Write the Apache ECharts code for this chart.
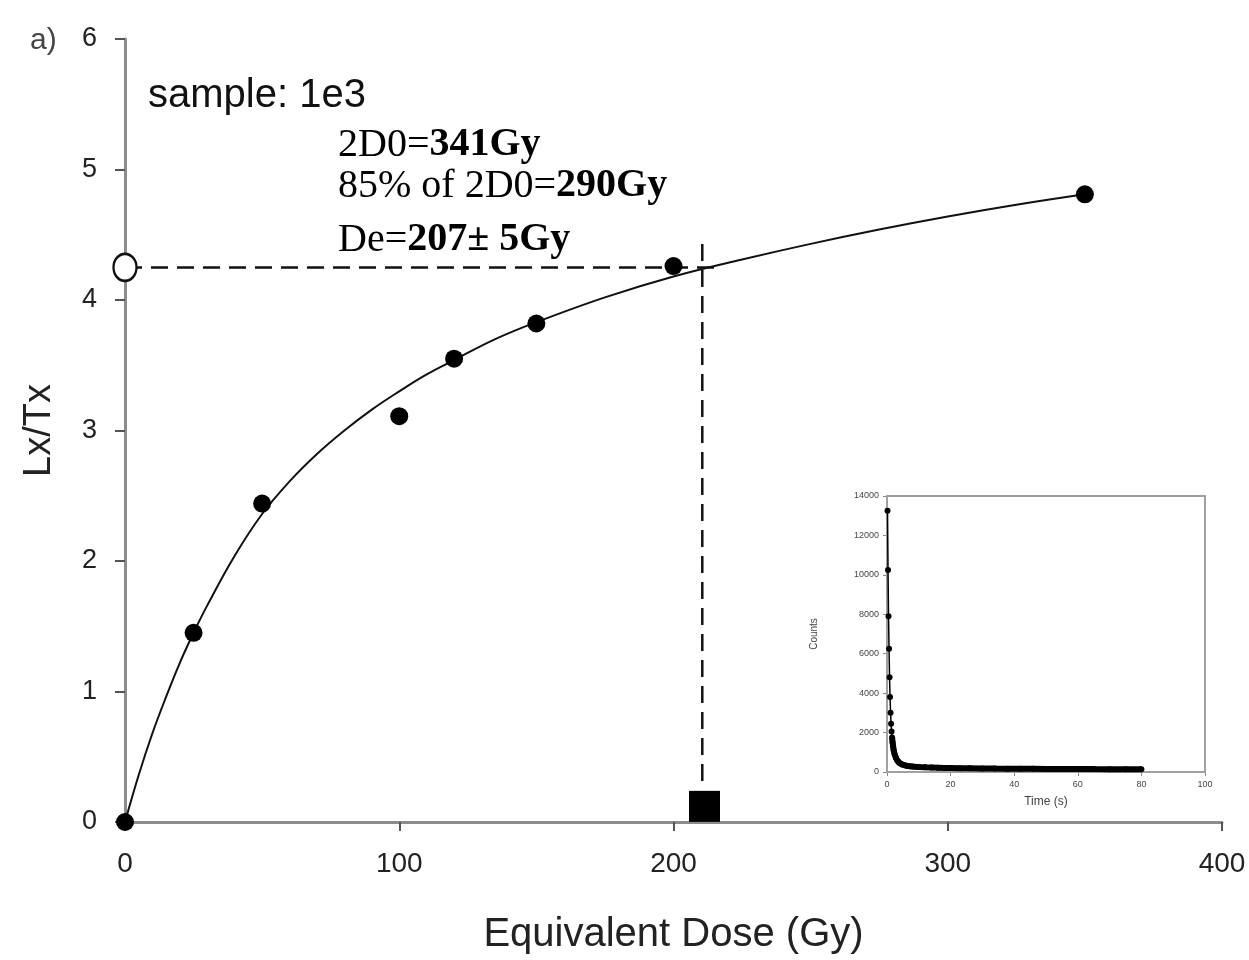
<!DOCTYPE html>
<html>
<head>
<meta charset="utf-8">
<script src="https://cdn.jsdelivr.net/npm/echarts@6/dist/echarts.min.js"></script>
<style>
html, body { margin: 0; padding: 0; background: #fff; }
#main { width: 1249px; height: 960px; }
</style>
</head>
<body>
<div id="main"></div>
<script>
// measured points (dose Gy, Lx/Tx)
var doseX = [0, 25, 50, 100, 120, 150, 200, 350];
var lxtxY = [0, 1.45, 2.44, 3.11, 3.55, 3.82, 4.26, 4.81];

// fitted growth curve
var fitX = [0, 5, 10, 15, 20, 25, 30, 40, 50, 60, 70, 80, 90, 100, 110, 120, 135, 150, 175, 200, 225, 250, 275, 300, 325, 350];
var fitY = [0, 0.36, 0.68, 0.96, 1.22, 1.45, 1.66, 2.04, 2.36, 2.61, 2.82, 3.0, 3.16, 3.30, 3.43, 3.54, 3.70, 3.83, 4.02, 4.18, 4.31, 4.43, 4.54, 4.64, 4.73, 4.81];

// natural signal and De projection
var naturalLxTx = 4.25;
var deDose = 210.5;
var hLineEnd = 217;
var vLineTop = 4.43;
var vLineBottom = 0.25;
var deMarkY = 0.12;

// inset shine-down curve (time s, counts)
var decayT = [0.16, 0.32, 0.48, 0.64, 0.8, 0.96, 1.12, 1.28, 1.44, 1.6, 1.76, 1.92, 2.08, 2.4, 2.8, 3.2, 3.6, 4, 4.8, 5.6, 6.4, 7.2, 8, 9, 10, 12, 14, 16, 18, 20, 23, 26, 30, 34, 38, 42, 46, 50, 55, 60, 65, 70, 75, 80];
var decayC = [13250, 10250, 7900, 6250, 4800, 3800, 3000, 2450, 2050, 1750, 1500, 1300, 1120, 900, 720, 600, 510, 450, 380, 340, 310, 290, 275, 260, 250, 235, 225, 215, 205, 200, 190, 185, 178, 172, 168, 163, 160, 157, 153, 150, 147, 145, 142, 140];

function pairs(xs, ys) {
    var out = [];
    xs.forEach(function(x, i) { out.push([x, ys[i]]); });
    return out;
}

var sans = 'Liberation Sans';
var serif = 'Liberation Serif';
var axisGrey = '#8c8c8c';
var decay = pairs(decayT, decayC);
var decayTail = decay.filter(function(p) { return p[0] >= 1.5; });

var myChart = echarts.init(document.getElementById('main'));
myChart.setOption({
    backgroundColor: '#fff',
    animation: false,
    grid: [
        { left: 125, top: 39, right: 27, bottom: 133 },
        { left: 887, top: 496, width: 318, height: 276, show: true, borderColor: '#a0a0a0', borderWidth: 2, backgroundColor: '#fff', z: 5 }
    ],
    xAxis: [{
        type: 'value', min: 0, max: 400, interval: 100,
        name: 'Equivalent Dose (Gy)', nameLocation: 'middle', nameGap: 93,
        nameTextStyle: { fontFamily: sans, fontSize: 40, color: '#222' },
        axisLine: { lineStyle: { color: axisGrey, width: 3 } },
        axisTick: { show: true, length: 9, lineStyle: { color: '#555', width: 2 } },
        axisLabel: { margin: 28, fontFamily: sans, fontSize: 28, color: '#222' },
        splitLine: { show: false }
    }, {
        gridIndex: 1, type: 'value', min: 0, max: 100, interval: 20,
        name: 'Time (s)', nameLocation: 'middle', nameGap: 24,
        nameTextStyle: { fontFamily: sans, fontSize: 12, color: '#444' },
        axisLine: { lineStyle: { color: axisGrey, width: 2 } },
        axisTick: { length: 4, lineStyle: { color: '#888' } },
        axisLabel: { margin: 8, fontFamily: sans, fontSize: 9, color: '#444' },
        splitLine: { show: false }
    }],
    yAxis: [{
        type: 'value', min: 0, max: 6, interval: 1,
        name: 'Lx/Tx', nameLocation: 'middle', nameGap: 66, nameRotate: 90,
        nameTextStyle: { fontFamily: sans, fontSize: 38, color: '#222' },
        axisLine: { show: true, lineStyle: { color: axisGrey, width: 3 } },
        axisTick: { show: true, length: 10, lineStyle: { color: '#555', width: 2 } },
        axisLabel: { margin: 28, fontFamily: sans, fontSize: 27, color: '#222' },
        splitLine: { show: false }
    }, {
        gridIndex: 1, type: 'value', min: 0, max: 14000, interval: 2000,
        name: 'Counts', nameLocation: 'middle', nameGap: 68, nameRotate: 90,
        nameTextStyle: { fontFamily: sans, fontSize: 10, color: '#444' },
        axisLine: { show: true, lineStyle: { color: axisGrey, width: 2 } },
        axisTick: { show: true, length: 4, lineStyle: { color: '#888' } },
        axisLabel: { margin: 8, fontFamily: sans, fontSize: 9, color: '#444', formatter: function(v) { return String(v); } },
        splitLine: { show: false }
    }],
    series: [
        {
            type: 'line', data: [[0, naturalLxTx], [hLineEnd, naturalLxTx]],
            showSymbol: false, silent: true, z: 2,
            lineStyle: { color: '#111', width: 2.5, type: [17, 9] }
        },
        {
            type: 'line', data: [[deDose, vLineTop], [deDose, vLineBottom]],
            showSymbol: false, silent: true, z: 2,
            lineStyle: { color: '#111', width: 2.5, type: [17, 9] }
        },
        {
            type: 'line', data: pairs(fitX, fitY), smooth: 0.4,
            showSymbol: false, z: 3,
            lineStyle: { color: '#111', width: 2 }
        },
        {
            type: 'scatter', data: pairs(doseX, lxtxY), symbolSize: 18, z: 4,
            itemStyle: { color: '#000', opacity: 1 }
        },
        {
            type: 'scatter', data: [[0, naturalLxTx]], symbol: 'circle', symbolSize: [23, 27], z: 4,
            itemStyle: { color: '#fff', borderColor: '#111', borderWidth: 2.5, opacity: 1 }
        },
        {
            type: 'scatter', data: [[deDose + 0.8, deMarkY]], symbol: 'rect', symbolSize: 31, z: 4,
            itemStyle: { color: '#000', opacity: 1 }
        },
        {
            type: 'line', xAxisIndex: 1, yAxisIndex: 1, data: decay,
            symbol: 'circle', symbolSize: 6, showAllSymbol: true, z: 6,
            itemStyle: { color: '#000' },
            lineStyle: { color: '#000', width: 1.5 }
        },
        {
            type: 'line', xAxisIndex: 1, yAxisIndex: 1, data: decayTail,
            showSymbol: false, z: 6,
            lineStyle: { color: '#000', width: 6 }
        }
    ],
    graphic: [
        { type: 'text', left: 30, top: 26, style: { text: 'a)', font: '30px "Liberation Sans"', fill: '#444' } },
        { type: 'text', x: 148, y: 96, style: { text: 'sample: 1e3', font: '40px "Liberation Sans"', fill: '#111', verticalAlign: 'middle' } },
        { type: 'text', x: 338, y: 145, style: {
            text: '{r|2D0=}{b|341Gy}', verticalAlign: 'middle',
            rich: { r: { fontFamily: serif, fontSize: 40, color: '#111' }, b: { fontFamily: serif, fontSize: 40, fontWeight: 'bold', color: '#111' } }
        } },
        { type: 'text', x: 338, y: 186, style: {
            text: '{r|85% of 2D0=}{b|290Gy}', verticalAlign: 'middle',
            rich: { r: { fontFamily: serif, fontSize: 40, color: '#111' }, b: { fontFamily: serif, fontSize: 40, fontWeight: 'bold', color: '#111' } }
        } },
        { type: 'text', x: 338, y: 240, style: {
            text: '{r|De=}{b|207± 5Gy}', verticalAlign: 'middle',
            rich: { r: { fontFamily: serif, fontSize: 40, color: '#111' }, b: { fontFamily: serif, fontSize: 40, fontWeight: 'bold', color: '#111' } }
        } }
    ]
});
</script>
</body>
</html>
